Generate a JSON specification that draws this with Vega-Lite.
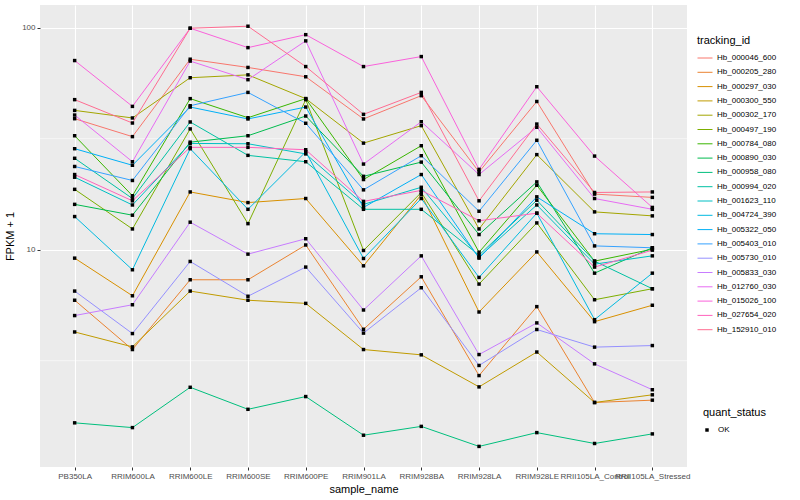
{
  "$schema": "https://vega.github.io/schema/vega-lite/v6.json",
  "width": 647,
  "height": 462,
  "autosize": {"type": "none"},
  "padding": {"left": 40, "top": 5, "right": 113, "bottom": 33},
  "background": "white",
  "config": {
    "font": "Liberation Sans",
    "view": {"fill": "#EBEBEB", "stroke": null},
    "axis": {
      "domain": false,
      "grid": true,
      "gridColor": "#FFFFFF",
      "gridWidth": 1.1,
      "tickColor": "#333333",
      "tickSize": 3,
      "labelColor": "#4D4D4D",
      "labelFontSize": 8,
      "labelFont": "Liberation Sans",
      "titleFont": "Liberation Sans",
      "titleFontSize": 11,
      "titleFontWeight": "normal",
      "titleColor": "#000000"
    },
    "legend": {
      "titleFont": "Liberation Sans",
      "labelFont": "Liberation Sans",
      "titleFontSize": 11,
      "titleFontWeight": "normal",
      "titleColor": "#000000",
      "labelFontSize": 8,
      "labelColor": "#000000",
      "padding": 0
    }
  },
  "datasets": {
    "expr": [
      {"tracking_id":"Hb_000046_600","sample_name":"PB350LA","FPKM_1":38.9,"quant_status":"OK"},
      {"tracking_id":"Hb_000046_600","sample_name":"RRIM600LA","FPKM_1":32.3,"quant_status":"OK"},
      {"tracking_id":"Hb_000046_600","sample_name":"RRIM600LE","FPKM_1":72.1,"quant_status":"OK"},
      {"tracking_id":"Hb_000046_600","sample_name":"RRIM600SE","FPKM_1":66.2,"quant_status":"OK"},
      {"tracking_id":"Hb_000046_600","sample_name":"RRIM600PE","FPKM_1":60.1,"quant_status":"OK"},
      {"tracking_id":"Hb_000046_600","sample_name":"RRIM901LA","FPKM_1":38.8,"quant_status":"OK"},
      {"tracking_id":"Hb_000046_600","sample_name":"RRIM928BA","FPKM_1":49.4,"quant_status":"OK"},
      {"tracking_id":"Hb_000046_600","sample_name":"RRIM928LA","FPKM_1":22.4,"quant_status":"OK"},
      {"tracking_id":"Hb_000046_600","sample_name":"RRIM928LE","FPKM_1":46.5,"quant_status":"OK"},
      {"tracking_id":"Hb_000046_600","sample_name":"RRII105LA_Control","FPKM_1":17.8,"quant_status":"OK"},
      {"tracking_id":"Hb_000046_600","sample_name":"RRII105LA_Stressed","FPKM_1":17.2,"quant_status":"OK"},

      {"tracking_id":"Hb_000205_280","sample_name":"PB350LA","FPKM_1":5.92,"quant_status":"OK"},
      {"tracking_id":"Hb_000205_280","sample_name":"RRIM600LA","FPKM_1":3.55,"quant_status":"OK"},
      {"tracking_id":"Hb_000205_280","sample_name":"RRIM600LE","FPKM_1":7.32,"quant_status":"OK"},
      {"tracking_id":"Hb_000205_280","sample_name":"RRIM600SE","FPKM_1":7.32,"quant_status":"OK"},
      {"tracking_id":"Hb_000205_280","sample_name":"RRIM600PE","FPKM_1":10.5,"quant_status":"OK"},
      {"tracking_id":"Hb_000205_280","sample_name":"RRIM901LA","FPKM_1":4.38,"quant_status":"OK"},
      {"tracking_id":"Hb_000205_280","sample_name":"RRIM928BA","FPKM_1":7.55,"quant_status":"OK"},
      {"tracking_id":"Hb_000205_280","sample_name":"RRIM928LA","FPKM_1":2.71,"quant_status":"OK"},
      {"tracking_id":"Hb_000205_280","sample_name":"RRIM928LE","FPKM_1":5.54,"quant_status":"OK"},
      {"tracking_id":"Hb_000205_280","sample_name":"RRII105LA_Control","FPKM_1":2.05,"quant_status":"OK"},
      {"tracking_id":"Hb_000205_280","sample_name":"RRII105LA_Stressed","FPKM_1":2.10,"quant_status":"OK"},

      {"tracking_id":"Hb_000297_030","sample_name":"PB350LA","FPKM_1":9.16,"quant_status":"OK"},
      {"tracking_id":"Hb_000297_030","sample_name":"RRIM600LA","FPKM_1":6.20,"quant_status":"OK"},
      {"tracking_id":"Hb_000297_030","sample_name":"RRIM600LE","FPKM_1":18.2,"quant_status":"OK"},
      {"tracking_id":"Hb_000297_030","sample_name":"RRIM600SE","FPKM_1":16.3,"quant_status":"OK"},
      {"tracking_id":"Hb_000297_030","sample_name":"RRIM600PE","FPKM_1":17.0,"quant_status":"OK"},
      {"tracking_id":"Hb_000297_030","sample_name":"RRIM901LA","FPKM_1":8.46,"quant_status":"OK"},
      {"tracking_id":"Hb_000297_030","sample_name":"RRIM928BA","FPKM_1":17.7,"quant_status":"OK"},
      {"tracking_id":"Hb_000297_030","sample_name":"RRIM928LA","FPKM_1":5.24,"quant_status":"OK"},
      {"tracking_id":"Hb_000297_030","sample_name":"RRIM928LE","FPKM_1":9.77,"quant_status":"OK"},
      {"tracking_id":"Hb_000297_030","sample_name":"RRII105LA_Control","FPKM_1":4.74,"quant_status":"OK"},
      {"tracking_id":"Hb_000297_030","sample_name":"RRII105LA_Stressed","FPKM_1":5.62,"quant_status":"OK"},

      {"tracking_id":"Hb_000300_550","sample_name":"PB350LA","FPKM_1":4.26,"quant_status":"OK"},
      {"tracking_id":"Hb_000300_550","sample_name":"RRIM600LA","FPKM_1":3.65,"quant_status":"OK"},
      {"tracking_id":"Hb_000300_550","sample_name":"RRIM600LE","FPKM_1":6.51,"quant_status":"OK"},
      {"tracking_id":"Hb_000300_550","sample_name":"RRIM600SE","FPKM_1":5.92,"quant_status":"OK"},
      {"tracking_id":"Hb_000300_550","sample_name":"RRIM600PE","FPKM_1":5.73,"quant_status":"OK"},
      {"tracking_id":"Hb_000300_550","sample_name":"RRIM901LA","FPKM_1":3.55,"quant_status":"OK"},
      {"tracking_id":"Hb_000300_550","sample_name":"RRIM928BA","FPKM_1":3.36,"quant_status":"OK"},
      {"tracking_id":"Hb_000300_550","sample_name":"RRIM928LA","FPKM_1":2.41,"quant_status":"OK"},
      {"tracking_id":"Hb_000300_550","sample_name":"RRIM928LE","FPKM_1":3.46,"quant_status":"OK"},
      {"tracking_id":"Hb_000300_550","sample_name":"RRII105LA_Control","FPKM_1":2.05,"quant_status":"OK"},
      {"tracking_id":"Hb_000300_550","sample_name":"RRII105LA_Stressed","FPKM_1":2.22,"quant_status":"OK"},

      {"tracking_id":"Hb_000302_170","sample_name":"PB350LA","FPKM_1":42.4,"quant_status":"OK"},
      {"tracking_id":"Hb_000302_170","sample_name":"RRIM600LA","FPKM_1":39.2,"quant_status":"OK"},
      {"tracking_id":"Hb_000302_170","sample_name":"RRIM600LE","FPKM_1":59.5,"quant_status":"OK"},
      {"tracking_id":"Hb_000302_170","sample_name":"RRIM600SE","FPKM_1":61.3,"quant_status":"OK"},
      {"tracking_id":"Hb_000302_170","sample_name":"RRIM600PE","FPKM_1":47.9,"quant_status":"OK"},
      {"tracking_id":"Hb_000302_170","sample_name":"RRIM901LA","FPKM_1":30.2,"quant_status":"OK"},
      {"tracking_id":"Hb_000302_170","sample_name":"RRIM928BA","FPKM_1":36.2,"quant_status":"OK"},
      {"tracking_id":"Hb_000302_170","sample_name":"RRIM928LA","FPKM_1":12.4,"quant_status":"OK"},
      {"tracking_id":"Hb_000302_170","sample_name":"RRIM928LE","FPKM_1":26.8,"quant_status":"OK"},
      {"tracking_id":"Hb_000302_170","sample_name":"RRII105LA_Control","FPKM_1":14.8,"quant_status":"OK"},
      {"tracking_id":"Hb_000302_170","sample_name":"RRII105LA_Stressed","FPKM_1":14.2,"quant_status":"OK"},

      {"tracking_id":"Hb_000497_190","sample_name":"PB350LA","FPKM_1":18.7,"quant_status":"OK"},
      {"tracking_id":"Hb_000497_190","sample_name":"RRIM600LA","FPKM_1":12.4,"quant_status":"OK"},
      {"tracking_id":"Hb_000497_190","sample_name":"RRIM600LE","FPKM_1":35.0,"quant_status":"OK"},
      {"tracking_id":"Hb_000497_190","sample_name":"RRIM600SE","FPKM_1":13.1,"quant_status":"OK"},
      {"tracking_id":"Hb_000497_190","sample_name":"RRIM600PE","FPKM_1":47.4,"quant_status":"OK"},
      {"tracking_id":"Hb_000497_190","sample_name":"RRIM901LA","FPKM_1":9.92,"quant_status":"OK"},
      {"tracking_id":"Hb_000497_190","sample_name":"RRIM928BA","FPKM_1":18.1,"quant_status":"OK"},
      {"tracking_id":"Hb_000497_190","sample_name":"RRIM928LA","FPKM_1":7.00,"quant_status":"OK"},
      {"tracking_id":"Hb_000497_190","sample_name":"RRIM928LE","FPKM_1":13.2,"quant_status":"OK"},
      {"tracking_id":"Hb_000497_190","sample_name":"RRII105LA_Control","FPKM_1":5.95,"quant_status":"OK"},
      {"tracking_id":"Hb_000497_190","sample_name":"RRII105LA_Stressed","FPKM_1":6.67,"quant_status":"OK"},

      {"tracking_id":"Hb_000784_080","sample_name":"PB350LA","FPKM_1":32.6,"quant_status":"OK"},
      {"tracking_id":"Hb_000784_080","sample_name":"RRIM600LA","FPKM_1":17.5,"quant_status":"OK"},
      {"tracking_id":"Hb_000784_080","sample_name":"RRIM600LE","FPKM_1":47.9,"quant_status":"OK"},
      {"tracking_id":"Hb_000784_080","sample_name":"RRIM600SE","FPKM_1":39.3,"quant_status":"OK"},
      {"tracking_id":"Hb_000784_080","sample_name":"RRIM600PE","FPKM_1":47.9,"quant_status":"OK"},
      {"tracking_id":"Hb_000784_080","sample_name":"RRIM901LA","FPKM_1":20.7,"quant_status":"OK"},
      {"tracking_id":"Hb_000784_080","sample_name":"RRIM928BA","FPKM_1":29.4,"quant_status":"OK"},
      {"tracking_id":"Hb_000784_080","sample_name":"RRIM928LA","FPKM_1":9.74,"quant_status":"OK"},
      {"tracking_id":"Hb_000784_080","sample_name":"RRIM928LE","FPKM_1":19.5,"quant_status":"OK"},
      {"tracking_id":"Hb_000784_080","sample_name":"RRII105LA_Control","FPKM_1":8.88,"quant_status":"OK"},
      {"tracking_id":"Hb_000784_080","sample_name":"RRII105LA_Stressed","FPKM_1":10.05,"quant_status":"OK"},

      {"tracking_id":"Hb_000890_030","sample_name":"PB350LA","FPKM_1":16.0,"quant_status":"OK"},
      {"tracking_id":"Hb_000890_030","sample_name":"RRIM600LA","FPKM_1":14.3,"quant_status":"OK"},
      {"tracking_id":"Hb_000890_030","sample_name":"RRIM600LE","FPKM_1":30.5,"quant_status":"OK"},
      {"tracking_id":"Hb_000890_030","sample_name":"RRIM600SE","FPKM_1":32.6,"quant_status":"OK"},
      {"tracking_id":"Hb_000890_030","sample_name":"RRIM600PE","FPKM_1":40.0,"quant_status":"OK"},
      {"tracking_id":"Hb_000890_030","sample_name":"RRIM901LA","FPKM_1":21.4,"quant_status":"OK"},
      {"tracking_id":"Hb_000890_030","sample_name":"RRIM928BA","FPKM_1":24.8,"quant_status":"OK"},
      {"tracking_id":"Hb_000890_030","sample_name":"RRIM928LA","FPKM_1":11.7,"quant_status":"OK"},
      {"tracking_id":"Hb_000890_030","sample_name":"RRIM928LE","FPKM_1":20.2,"quant_status":"OK"},
      {"tracking_id":"Hb_000890_030","sample_name":"RRII105LA_Control","FPKM_1":7.84,"quant_status":"OK"},
      {"tracking_id":"Hb_000890_030","sample_name":"RRII105LA_Stressed","FPKM_1":10.2,"quant_status":"OK"},

      {"tracking_id":"Hb_000958_080","sample_name":"PB350LA","FPKM_1":1.66,"quant_status":"OK"},
      {"tracking_id":"Hb_000958_080","sample_name":"RRIM600LA","FPKM_1":1.58,"quant_status":"OK"},
      {"tracking_id":"Hb_000958_080","sample_name":"RRIM600LE","FPKM_1":2.40,"quant_status":"OK"},
      {"tracking_id":"Hb_000958_080","sample_name":"RRIM600SE","FPKM_1":1.91,"quant_status":"OK"},
      {"tracking_id":"Hb_000958_080","sample_name":"RRIM600PE","FPKM_1":2.18,"quant_status":"OK"},
      {"tracking_id":"Hb_000958_080","sample_name":"RRIM901LA","FPKM_1":1.46,"quant_status":"OK"},
      {"tracking_id":"Hb_000958_080","sample_name":"RRIM928BA","FPKM_1":1.60,"quant_status":"OK"},
      {"tracking_id":"Hb_000958_080","sample_name":"RRIM928LA","FPKM_1":1.30,"quant_status":"OK"},
      {"tracking_id":"Hb_000958_080","sample_name":"RRIM928LE","FPKM_1":1.50,"quant_status":"OK"},
      {"tracking_id":"Hb_000958_080","sample_name":"RRII105LA_Control","FPKM_1":1.34,"quant_status":"OK"},
      {"tracking_id":"Hb_000958_080","sample_name":"RRII105LA_Stressed","FPKM_1":1.48,"quant_status":"OK"},

      {"tracking_id":"Hb_000994_020","sample_name":"PB350LA","FPKM_1":25.8,"quant_status":"OK"},
      {"tracking_id":"Hb_000994_020","sample_name":"RRIM600LA","FPKM_1":17.0,"quant_status":"OK"},
      {"tracking_id":"Hb_000994_020","sample_name":"RRIM600LE","FPKM_1":37.6,"quant_status":"OK"},
      {"tracking_id":"Hb_000994_020","sample_name":"RRIM600SE","FPKM_1":26.6,"quant_status":"OK"},
      {"tracking_id":"Hb_000994_020","sample_name":"RRIM600PE","FPKM_1":24.9,"quant_status":"OK"},
      {"tracking_id":"Hb_000994_020","sample_name":"RRIM901LA","FPKM_1":15.2,"quant_status":"OK"},
      {"tracking_id":"Hb_000994_020","sample_name":"RRIM928BA","FPKM_1":15.2,"quant_status":"OK"},
      {"tracking_id":"Hb_000994_020","sample_name":"RRIM928LA","FPKM_1":9.45,"quant_status":"OK"},
      {"tracking_id":"Hb_000994_020","sample_name":"RRIM928LE","FPKM_1":16.7,"quant_status":"OK"},
      {"tracking_id":"Hb_000994_020","sample_name":"RRII105LA_Control","FPKM_1":8.88,"quant_status":"OK"},
      {"tracking_id":"Hb_000994_020","sample_name":"RRII105LA_Stressed","FPKM_1":6.67,"quant_status":"OK"},

      {"tracking_id":"Hb_001623_110","sample_name":"PB350LA","FPKM_1":21.2,"quant_status":"OK"},
      {"tracking_id":"Hb_001623_110","sample_name":"RRIM600LA","FPKM_1":15.9,"quant_status":"OK"},
      {"tracking_id":"Hb_001623_110","sample_name":"RRIM600LE","FPKM_1":30.1,"quant_status":"OK"},
      {"tracking_id":"Hb_001623_110","sample_name":"RRIM600SE","FPKM_1":30.0,"quant_status":"OK"},
      {"tracking_id":"Hb_001623_110","sample_name":"RRIM600PE","FPKM_1":27.0,"quant_status":"OK"},
      {"tracking_id":"Hb_001623_110","sample_name":"RRIM901LA","FPKM_1":16.0,"quant_status":"OK"},
      {"tracking_id":"Hb_001623_110","sample_name":"RRIM928BA","FPKM_1":19.1,"quant_status":"OK"},
      {"tracking_id":"Hb_001623_110","sample_name":"RRIM928LA","FPKM_1":9.26,"quant_status":"OK"},
      {"tracking_id":"Hb_001623_110","sample_name":"RRIM928LE","FPKM_1":15.9,"quant_status":"OK"},
      {"tracking_id":"Hb_001623_110","sample_name":"RRII105LA_Control","FPKM_1":8.61,"quant_status":"OK"},
      {"tracking_id":"Hb_001623_110","sample_name":"RRII105LA_Stressed","FPKM_1":9.38,"quant_status":"OK"},

      {"tracking_id":"Hb_004724_390","sample_name":"PB350LA","FPKM_1":14.1,"quant_status":"OK"},
      {"tracking_id":"Hb_004724_390","sample_name":"RRIM600LA","FPKM_1":8.12,"quant_status":"OK"},
      {"tracking_id":"Hb_004724_390","sample_name":"RRIM600LE","FPKM_1":28.5,"quant_status":"OK"},
      {"tracking_id":"Hb_004724_390","sample_name":"RRIM600SE","FPKM_1":15.2,"quant_status":"OK"},
      {"tracking_id":"Hb_004724_390","sample_name":"RRIM600PE","FPKM_1":27.6,"quant_status":"OK"},
      {"tracking_id":"Hb_004724_390","sample_name":"RRIM901LA","FPKM_1":9.13,"quant_status":"OK"},
      {"tracking_id":"Hb_004724_390","sample_name":"RRIM928BA","FPKM_1":17.0,"quant_status":"OK"},
      {"tracking_id":"Hb_004724_390","sample_name":"RRIM928LA","FPKM_1":7.50,"quant_status":"OK"},
      {"tracking_id":"Hb_004724_390","sample_name":"RRIM928LE","FPKM_1":14.6,"quant_status":"OK"},
      {"tracking_id":"Hb_004724_390","sample_name":"RRII105LA_Control","FPKM_1":4.84,"quant_status":"OK"},
      {"tracking_id":"Hb_004724_390","sample_name":"RRII105LA_Stressed","FPKM_1":7.84,"quant_status":"OK"},

      {"tracking_id":"Hb_005322_050","sample_name":"PB350LA","FPKM_1":28.5,"quant_status":"OK"},
      {"tracking_id":"Hb_005322_050","sample_name":"RRIM600LA","FPKM_1":24.0,"quant_status":"OK"},
      {"tracking_id":"Hb_005322_050","sample_name":"RRIM600LE","FPKM_1":43.9,"quant_status":"OK"},
      {"tracking_id":"Hb_005322_050","sample_name":"RRIM600SE","FPKM_1":38.8,"quant_status":"OK"},
      {"tracking_id":"Hb_005322_050","sample_name":"RRIM600PE","FPKM_1":43.9,"quant_status":"OK"},
      {"tracking_id":"Hb_005322_050","sample_name":"RRIM901LA","FPKM_1":15.5,"quant_status":"OK"},
      {"tracking_id":"Hb_005322_050","sample_name":"RRIM928BA","FPKM_1":21.8,"quant_status":"OK"},
      {"tracking_id":"Hb_005322_050","sample_name":"RRIM928LA","FPKM_1":9.16,"quant_status":"OK"},
      {"tracking_id":"Hb_005322_050","sample_name":"RRIM928LE","FPKM_1":17.3,"quant_status":"OK"},
      {"tracking_id":"Hb_005322_050","sample_name":"RRII105LA_Control","FPKM_1":11.8,"quant_status":"OK"},
      {"tracking_id":"Hb_005322_050","sample_name":"RRII105LA_Stressed","FPKM_1":11.7,"quant_status":"OK"},

      {"tracking_id":"Hb_005403_010","sample_name":"PB350LA","FPKM_1":23.7,"quant_status":"OK"},
      {"tracking_id":"Hb_005403_010","sample_name":"RRIM600LA","FPKM_1":20.5,"quant_status":"OK"},
      {"tracking_id":"Hb_005403_010","sample_name":"RRIM600LE","FPKM_1":44.5,"quant_status":"OK"},
      {"tracking_id":"Hb_005403_010","sample_name":"RRIM600SE","FPKM_1":51.1,"quant_status":"OK"},
      {"tracking_id":"Hb_005403_010","sample_name":"RRIM600PE","FPKM_1":37.1,"quant_status":"OK"},
      {"tracking_id":"Hb_005403_010","sample_name":"RRIM901LA","FPKM_1":18.6,"quant_status":"OK"},
      {"tracking_id":"Hb_005403_010","sample_name":"RRIM928BA","FPKM_1":26.5,"quant_status":"OK"},
      {"tracking_id":"Hb_005403_010","sample_name":"RRIM928LA","FPKM_1":14.9,"quant_status":"OK"},
      {"tracking_id":"Hb_005403_010","sample_name":"RRIM928LE","FPKM_1":31.1,"quant_status":"OK"},
      {"tracking_id":"Hb_005403_010","sample_name":"RRII105LA_Control","FPKM_1":10.4,"quant_status":"OK"},
      {"tracking_id":"Hb_005403_010","sample_name":"RRII105LA_Stressed","FPKM_1":10.2,"quant_status":"OK"},

      {"tracking_id":"Hb_005730_010","sample_name":"PB350LA","FPKM_1":6.51,"quant_status":"OK"},
      {"tracking_id":"Hb_005730_010","sample_name":"RRIM600LA","FPKM_1":4.19,"quant_status":"OK"},
      {"tracking_id":"Hb_005730_010","sample_name":"RRIM600LE","FPKM_1":8.85,"quant_status":"OK"},
      {"tracking_id":"Hb_005730_010","sample_name":"RRIM600SE","FPKM_1":6.17,"quant_status":"OK"},
      {"tracking_id":"Hb_005730_010","sample_name":"RRIM600PE","FPKM_1":8.35,"quant_status":"OK"},
      {"tracking_id":"Hb_005730_010","sample_name":"RRIM901LA","FPKM_1":4.21,"quant_status":"OK"},
      {"tracking_id":"Hb_005730_010","sample_name":"RRIM928BA","FPKM_1":6.74,"quant_status":"OK"},
      {"tracking_id":"Hb_005730_010","sample_name":"RRIM928LA","FPKM_1":3.01,"quant_status":"OK"},
      {"tracking_id":"Hb_005730_010","sample_name":"RRIM928LE","FPKM_1":4.37,"quant_status":"OK"},
      {"tracking_id":"Hb_005730_010","sample_name":"RRII105LA_Control","FPKM_1":3.64,"quant_status":"OK"},
      {"tracking_id":"Hb_005730_010","sample_name":"RRII105LA_Stressed","FPKM_1":3.70,"quant_status":"OK"},

      {"tracking_id":"Hb_005833_030","sample_name":"PB350LA","FPKM_1":5.05,"quant_status":"OK"},
      {"tracking_id":"Hb_005833_030","sample_name":"RRIM600LA","FPKM_1":5.65,"quant_status":"OK"},
      {"tracking_id":"Hb_005833_030","sample_name":"RRIM600LE","FPKM_1":13.3,"quant_status":"OK"},
      {"tracking_id":"Hb_005833_030","sample_name":"RRIM600SE","FPKM_1":9.55,"quant_status":"OK"},
      {"tracking_id":"Hb_005833_030","sample_name":"RRIM600PE","FPKM_1":11.2,"quant_status":"OK"},
      {"tracking_id":"Hb_005833_030","sample_name":"RRIM901LA","FPKM_1":5.35,"quant_status":"OK"},
      {"tracking_id":"Hb_005833_030","sample_name":"RRIM928BA","FPKM_1":9.38,"quant_status":"OK"},
      {"tracking_id":"Hb_005833_030","sample_name":"RRIM928LA","FPKM_1":3.37,"quant_status":"OK"},
      {"tracking_id":"Hb_005833_030","sample_name":"RRIM928LE","FPKM_1":4.68,"quant_status":"OK"},
      {"tracking_id":"Hb_005833_030","sample_name":"RRII105LA_Control","FPKM_1":3.06,"quant_status":"OK"},
      {"tracking_id":"Hb_005833_030","sample_name":"RRII105LA_Stressed","FPKM_1":2.34,"quant_status":"OK"},

      {"tracking_id":"Hb_012760_030","sample_name":"PB350LA","FPKM_1":40.4,"quant_status":"OK"},
      {"tracking_id":"Hb_012760_030","sample_name":"RRIM600LA","FPKM_1":24.9,"quant_status":"OK"},
      {"tracking_id":"Hb_012760_030","sample_name":"RRIM600LE","FPKM_1":70.7,"quant_status":"OK"},
      {"tracking_id":"Hb_012760_030","sample_name":"RRIM600SE","FPKM_1":58.3,"quant_status":"OK"},
      {"tracking_id":"Hb_012760_030","sample_name":"RRIM600PE","FPKM_1":87.2,"quant_status":"OK"},
      {"tracking_id":"Hb_012760_030","sample_name":"RRIM901LA","FPKM_1":24.3,"quant_status":"OK"},
      {"tracking_id":"Hb_012760_030","sample_name":"RRIM928BA","FPKM_1":37.7,"quant_status":"OK"},
      {"tracking_id":"Hb_012760_030","sample_name":"RRIM928LA","FPKM_1":21.8,"quant_status":"OK"},
      {"tracking_id":"Hb_012760_030","sample_name":"RRIM928LE","FPKM_1":35.6,"quant_status":"OK"},
      {"tracking_id":"Hb_012760_030","sample_name":"RRII105LA_Control","FPKM_1":17.0,"quant_status":"OK"},
      {"tracking_id":"Hb_012760_030","sample_name":"RRII105LA_Stressed","FPKM_1":15.2,"quant_status":"OK"},

      {"tracking_id":"Hb_015026_100","sample_name":"PB350LA","FPKM_1":71.1,"quant_status":"OK"},
      {"tracking_id":"Hb_015026_100","sample_name":"RRIM600LA","FPKM_1":44.2,"quant_status":"OK"},
      {"tracking_id":"Hb_015026_100","sample_name":"RRIM600LE","FPKM_1":99.4,"quant_status":"OK"},
      {"tracking_id":"Hb_015026_100","sample_name":"RRIM600SE","FPKM_1":81.3,"quant_status":"OK"},
      {"tracking_id":"Hb_015026_100","sample_name":"RRIM600PE","FPKM_1":93.0,"quant_status":"OK"},
      {"tracking_id":"Hb_015026_100","sample_name":"RRIM901LA","FPKM_1":66.8,"quant_status":"OK"},
      {"tracking_id":"Hb_015026_100","sample_name":"RRIM928BA","FPKM_1":74.1,"quant_status":"OK"},
      {"tracking_id":"Hb_015026_100","sample_name":"RRIM928LA","FPKM_1":23.0,"quant_status":"OK"},
      {"tracking_id":"Hb_015026_100","sample_name":"RRIM928LE","FPKM_1":54.2,"quant_status":"OK"},
      {"tracking_id":"Hb_015026_100","sample_name":"RRII105LA_Control","FPKM_1":26.4,"quant_status":"OK"},
      {"tracking_id":"Hb_015026_100","sample_name":"RRII105LA_Stressed","FPKM_1":15.5,"quant_status":"OK"},

      {"tracking_id":"Hb_027654_020","sample_name":"PB350LA","FPKM_1":21.8,"quant_status":"OK"},
      {"tracking_id":"Hb_027654_020","sample_name":"RRIM600LA","FPKM_1":16.6,"quant_status":"OK"},
      {"tracking_id":"Hb_027654_020","sample_name":"RRIM600LE","FPKM_1":28.9,"quant_status":"OK"},
      {"tracking_id":"Hb_027654_020","sample_name":"RRIM600SE","FPKM_1":28.9,"quant_status":"OK"},
      {"tracking_id":"Hb_027654_020","sample_name":"RRIM600PE","FPKM_1":28.2,"quant_status":"OK"},
      {"tracking_id":"Hb_027654_020","sample_name":"RRIM901LA","FPKM_1":16.5,"quant_status":"OK"},
      {"tracking_id":"Hb_027654_020","sample_name":"RRIM928BA","FPKM_1":18.5,"quant_status":"OK"},
      {"tracking_id":"Hb_027654_020","sample_name":"RRIM928LA","FPKM_1":13.5,"quant_status":"OK"},
      {"tracking_id":"Hb_027654_020","sample_name":"RRIM928LE","FPKM_1":14.6,"quant_status":"OK"},
      {"tracking_id":"Hb_027654_020","sample_name":"RRII105LA_Control","FPKM_1":8.35,"quant_status":"OK"},
      {"tracking_id":"Hb_027654_020","sample_name":"RRII105LA_Stressed","FPKM_1":9.95,"quant_status":"OK"},

      {"tracking_id":"Hb_152910_010","sample_name":"PB350LA","FPKM_1":47.4,"quant_status":"OK"},
      {"tracking_id":"Hb_152910_010","sample_name":"RRIM600LA","FPKM_1":37.2,"quant_status":"OK"},
      {"tracking_id":"Hb_152910_010","sample_name":"RRIM600LE","FPKM_1":99.4,"quant_status":"OK"},
      {"tracking_id":"Hb_152910_010","sample_name":"RRIM600SE","FPKM_1":101.5,"quant_status":"OK"},
      {"tracking_id":"Hb_152910_010","sample_name":"RRIM600PE","FPKM_1":66.8,"quant_status":"OK"},
      {"tracking_id":"Hb_152910_010","sample_name":"RRIM901LA","FPKM_1":40.7,"quant_status":"OK"},
      {"tracking_id":"Hb_152910_010","sample_name":"RRIM928BA","FPKM_1":51.1,"quant_status":"OK"},
      {"tracking_id":"Hb_152910_010","sample_name":"RRIM928LA","FPKM_1":16.6,"quant_status":"OK"},
      {"tracking_id":"Hb_152910_010","sample_name":"RRIM928LE","FPKM_1":36.8,"quant_status":"OK"},
      {"tracking_id":"Hb_152910_010","sample_name":"RRII105LA_Control","FPKM_1":18.1,"quant_status":"OK"},
      {"tracking_id":"Hb_152910_010","sample_name":"RRII105LA_Stressed","FPKM_1":18.2,"quant_status":"OK"}
    ],
    "minor": [{"minor_break": 3.1623}, {"minor_break": 31.623}]
  },
  "layer": [
    {
      "data": {"name": "minor"},
      "mark": {"type": "rule", "color": "#FFFFFF", "strokeWidth": 0.55},
      "encoding": {
        "y": {"field": "minor_break", "type": "quantitative", "title": "FPKM + 1",
              "scale": {"type": "log", "domain": [1.05, 126.5], "nice": false, "zero": false}}
      }
    },
    {
      "data": {"name": "expr"},
      "mark": {"type": "line", "strokeWidth": 1},
      "encoding": {
        "x": {"field": "sample_name", "type": "nominal", "title": "sample_name",
              "scale": {"type": "point", "padding": 0.6,
                        "domain": ["PB350LA","RRIM600LA","RRIM600LE","RRIM600SE","RRIM600PE","RRIM901LA","RRIM928BA","RRIM928LA","RRIM928LE","RRII105LA_Control","RRII105LA_Stressed"]},
              "axis": {"labelAngle": 0, "labelOverlap": false, "labelBound": false, "labelPadding": 2, "titlePadding": 3}},
        "y": {"field": "FPKM_1", "type": "quantitative", "title": "FPKM + 1",
              "scale": {"type": "log", "domain": [1.05, 126.5], "nice": false, "zero": false},
              "axis": {"values": [10, 100], "labelPadding": 2, "titlePadding": 6}},
        "color": {"field": "tracking_id", "type": "nominal", "title": "tracking_id",
                  "scale": {"range": ["#F8766D","#EA8331","#D89000","#C09B00","#A3A500","#7CAE00","#39B600","#00BB4E","#00BF7D","#00C1A3","#00BFC4","#00BAE0","#00B0F6","#35A2FF","#9590FF","#C77CFF","#E76BF3","#FA62DB","#FF62BC","#FF6C91"]},
                  "legend": {"orient": "none", "legendX": 657, "legendY": 30, "symbolType": "stroke", "symbolSize": 225, "symbolStrokeWidth": 1, "rowPadding": 2.3, "titlePadding": 4, "labelOffset": 4}}
      }
    },
    {
      "data": {"name": "expr"},
      "mark": {"type": "point", "filled": true, "color": "#000000", "opacity": 1, "size": 12},
      "encoding": {
        "x": {"field": "sample_name", "type": "nominal", "title": "sample_name"},
        "y": {"field": "FPKM_1", "type": "quantitative", "title": "FPKM + 1"},
        "shape": {"field": "quant_status", "type": "nominal", "title": "quant_status",
                  "scale": {"range": ["square"]},
                  "legend": {"orient": "none", "legendX": 663, "legendY": 402, "symbolSize": 12, "symbolFillColor": "#000000", "symbolStrokeColor": "#000000", "titlePadding": 8, "labelOffset": 7}}
      }
    }
  ]
}
